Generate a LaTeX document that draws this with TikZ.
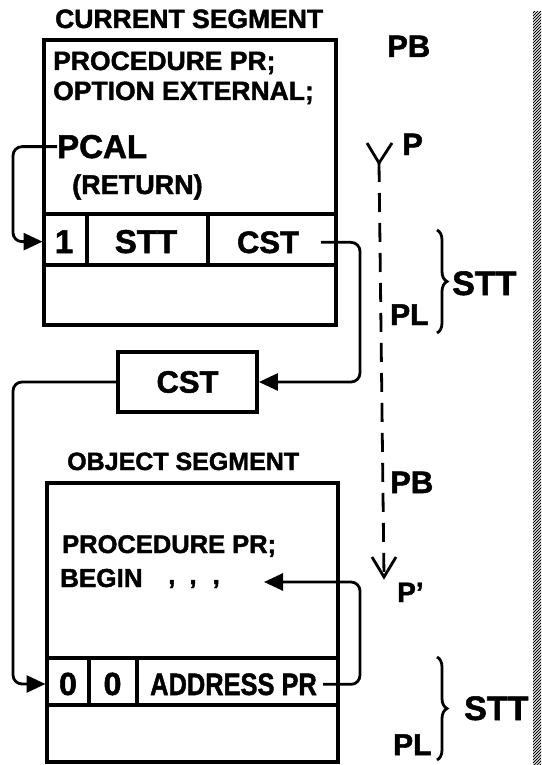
\documentclass[tikz,border=0pt]{standalone}
\usepackage{fontspec}
\setmainfont[BoldFeatures={FakeBold=1.6}]{Liberation Sans}
\usetikzlibrary{arrows.meta,decorations.pathreplacing}
\begin{document}
\begin{tikzpicture}[x=1pt,y=-1pt,
  box/.style={line width=3.8pt, line join=miter, line cap=rect},
  conn/.style={line width=2.8pt, rounded corners=9pt},
  arr/.style={-{Triangle[length=19pt,width=17pt]}},
  lbl/.style={inner sep=0pt, anchor=base west, font=\bfseries\fontsize{#1}{#1}\selectfont},
  cell/.style={inner sep=0pt, anchor=base, font=\bfseries\fontsize{#1}{#1}\selectfont},
  thinl/.style={line width=2.8pt},
  brc/.style={line width=2.8pt, decorate, decoration={brace, amplitude=10pt}}
]
\useasboundingbox (0,0) rectangle (541,765);

% rails for connectors
\coordinate (lrail) at (13,0);
\coordinate (rrail) at (360,0);
\coordinate (curL) at (42.5,0);
\coordinate (objL) at (45.5,0);
\coordinate (beginin) at (264,582);

% ---------- current segment ----------
\node[lbl=26.5] (curhead) at (55,28) {CURRENT SEGMENT};
\draw[box] (44,40) rectangle (336,325);
\draw[box] (44,214) -- (336,214) (44,265) -- (336,265)
           (87,214) -- (87,265) (208,214) -- (208,265);
\node[lbl=26.5] (proc1) at (53,70) {PROCEDURE PR;};
\node[lbl=26.5] (opt) at (53,100) {OPTION EXTERNAL;};
\node[lbl=33] (pcal) at (57,158) {PCAL};
\node[lbl=27] (ret) at (72,194) {(RETURN)};
\node[cell=33] (one) at (64,253) {1};
\node[cell=33] (stt) at (146,253) {STT};
\node[cell=31] (cst1) at (268,253) {CST};

% ---------- CST box ----------
\node[draw, line width=3.8pt, minimum width=139pt, minimum height=60pt, inner sep=0pt,
      font=\bfseries\fontsize{31}{31}\selectfont] (cstbox) at (187.5,382) {CST};

% ---------- object segment ----------
\node[lbl=25] (objhead) at (67,470) {OBJECT SEGMENT};
\draw[box] (47,483) rectangle (338,762);
\draw[box] (47,658) -- (338,658) (47,705) -- (338,705)
           (89,658) -- (89,705) (137,658) -- (137,705);
\node[lbl=25.5] (proc2) at (62,553) {PROCEDURE PR;};
\node[lbl=26] (begin) at (60,587) {BEGIN};
\node[lbl=26] (dots) at (168,584) {,\hspace{14pt},\hspace{16pt},};
\node[cell=32] (zero1) at (68,695) {0};
\node[cell=32] (zero2) at (112.5,695) {0};
\node[lbl=31] (addr) at (150,695) {\scalebox{0.82}[1]{ADDRESS PR}};

% ---------- connectors ----------
\draw[conn,arr] (pcal.west) -- (pcal.west -| lrail) |- (one.west -| curL);
\draw[conn,arr] ([xshift=22pt]cst1.east) -- (cst1.east -| rrail) |- (cstbox.east);
\draw[conn,arr] (cstbox.west) -- (cstbox.west -| lrail) |- (zero1.west -| objL);
\draw[conn,arr] ([xshift=6pt]addr.east) -- (addr.east -| rrail) |- (beginin);

% ---------- right side: PB / P / dashed ----------
\node[lbl=31] (pb1) at (387,57) {PB};
\node[lbl=31] (p1) at (402,155) {P};
\coordinate (ptop) at (379,163);
\coordinate (pbot) at (384,577);
\draw[thinl] (367,143) -- (ptop) -- (392,143);
\draw[thinl, dash pattern=on 19pt off 11pt] (ptop) -- (pbot);
\draw[thinl] (372,557) -- (pbot) -- (396,557);

\draw[brc] (437,230) -- (437,333);
\node[lbl=34] (stt2) at (452,295) {STT};
\node[lbl=30] (pl1) at (390,325) {PL};

\node[lbl=31] (pb2) at (390,493) {PB};
\node[lbl=28] (pp) at (397,602) {P'};

\draw[brc] (437,657) -- (437,760);
\node[lbl=34] (stt3) at (464,720) {STT};
\node[lbl=30] (pl2) at (393,755) {PL};

% ---------- hatched border ----------
\begin{scope}
\clip (533,12) rectangle (541,765);
\foreach \i in {0,3,...,790} \draw[line width=0.8pt] (531,\i) -- (543,\i-12);
\end{scope}
\end{tikzpicture}
\end{document}
